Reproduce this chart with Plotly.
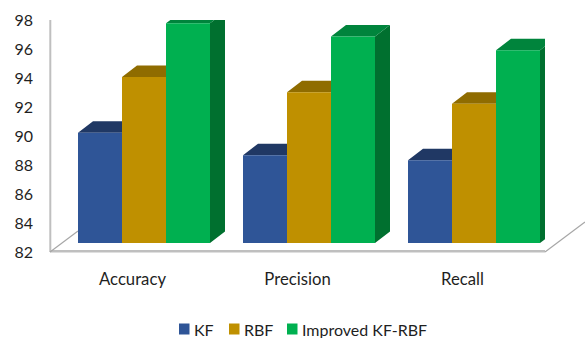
import plotly.graph_objects as go

categories = ["Accuracy", "Precision", "Recall"]
series_names = ["KF", "RBF", "Improved KF-RBF"]
kf_values = [89.6, 88.05, 87.7]
rbf_values = [93.45, 92.4, 91.6]
improved_values = [97.15, 96.25, 95.3]
y_ticks = [82, 84, 86, 88, 90, 92, 94, 96, 98]

front_colors = ["#2F5597", "#BF9000", "#00B050"]
top_colors = ["#203864", "#8F6C00", "#00843C"]
side_colors = ["#1B3058", "#7F6000", "#00702F"]

W, H = 585, 338
FONT = "Lato"
TEXT = "#1f1f1f"

# Pixel layout of the floor edge and of the shifted front plane of the bars
FLOOR_L, FLOOR_R, FLOOR_Y, TOP_Y = 50, 545, 252, 20
PLANE_DX, PLANE_DY = 11.5, 9
PX_PER_VALUE = (FLOOR_Y - TOP_Y) / (y_ticks[-1] - y_ticks[0])
PX_PER_CAT = (FLOOR_R - FLOOR_L) / len(categories)

# Extrusion of each bar, expressed in axis units
DEPTH_X = 15 / PX_PER_CAT
DEPTH_Y = 11.5 / PX_PER_VALUE
SHIFT_X = PLANE_DX / PX_PER_CAT
SHIFT_Y = PLANE_DY / PX_PER_VALUE
GROUP_WIDTH = 0.8
BAR_WIDTH = GROUP_WIDTH / len(series_names)

fig = go.Figure()
all_values = [kf_values, rbf_values, improved_values]

# Top and side faces sit on the primary axes, beneath the front faces
for s, values in enumerate(all_values):
    top_x, top_y, side_x, side_y = [], [], [], []
    for c, v in enumerate(values):
        left = c + SHIFT_X - GROUP_WIDTH / 2 + s * BAR_WIDTH
        right = left + BAR_WIDTH
        t = v + SHIFT_Y
        b = y_ticks[0] + SHIFT_Y
        top_x += [left, right, right + DEPTH_X, left + DEPTH_X, left, None]
        top_y += [t, t, t + DEPTH_Y, t + DEPTH_Y, t, None]
        side_x += [right, right + DEPTH_X, right + DEPTH_X, right, right, None]
        side_y += [b, b + DEPTH_Y, t + DEPTH_Y, t, b, None]
    for xs, ys, color in ((side_x, side_y, side_colors[s]), (top_x, top_y, top_colors[s])):
        fig.add_trace(go.Scatter(
            x=xs, y=ys, mode="lines", fill="toself", fillcolor=color,
            line=dict(width=0, color=color), hoverinfo="skip",
            showlegend=False, cliponaxis=False, xaxis="x", yaxis="y",
        ))

# Front faces are real bars on a second subplot stacked over the first
for s, values in enumerate(all_values):
    fig.add_trace(go.Bar(
        x=list(range(len(categories))), y=values, name=series_names[s],
        marker=dict(color=front_colors[s], line=dict(width=0)),
        xaxis="x2", yaxis="y2", showlegend=False,
    ))


def px_line(x0, y0, x1, y1, color, width):
    fig.add_shape(type="line", xref="paper", yref="paper",
                  x0=x0 / W, x1=x1 / W, y0=1 - y0 / H, y1=1 - y1 / H,
                  line=dict(color=color, width=width), layer="below")


# Chart frame: wall edge, front floor edge and the two receding floor edges
AXIS_COLOR = "#bfbfbf"
px_line(50.3, 20, 50.3, 252, AXIS_COLOR, 2)
px_line(50, 251.3, 545, 251.3, AXIS_COLOR, 2.6)
px_line(50, 252, 78, 231, "#a6a6a6", 1.2)
px_line(545, 252, 585, 222, "#a6a6a6", 1.2)

# Legend row built from square swatches and labels
LEGEND_Y = 329
for name, color, x_left in zip(series_names, front_colors, (179, 229, 287)):
    fig.add_shape(type="rect", xref="paper", yref="paper", layer="above",
                  x0=x_left / W, x1=(x_left + 10.5) / W,
                  y0=1 - (LEGEND_Y + 5.5) / H, y1=1 - (LEGEND_Y - 5.5) / H,
                  fillcolor=color, line=dict(width=0))
    fig.add_annotation(text=name, xref="paper", yref="paper", showarrow=False,
                       x=(x_left + 16) / W, y=1 - LEGEND_Y / H,
                       xanchor="left", yanchor="middle", xshift=-1,
                       borderpad=0, borderwidth=0,
                       font=dict(family=FONT, size=16, color=TEXT))

fig.update_layout(
    width=W, height=H, margin=dict(l=0, r=0, t=0, b=0, autoexpand=False),
    paper_bgcolor="white", plot_bgcolor="rgba(0,0,0,0)",
    font=dict(family=FONT, size=16, color=TEXT),
    barmode="group", bargap=1 - GROUP_WIDTH, bargroupgap=0,
    showlegend=False,
    xaxis=dict(domain=[FLOOR_L / W, FLOOR_R / W], range=[-0.5, 2.5], automargin=False,
               tickmode="array", tickvals=list(range(len(categories))), ticktext=categories,
               showgrid=False, zeroline=False, showline=False,
               ticks="", ticklabelstandoff=15, tickfont=dict(family=FONT, size=16.7, color=TEXT)),
    yaxis=dict(domain=[1 - FLOOR_Y / H, 1 - TOP_Y / H], range=[y_ticks[0], y_ticks[-1]], automargin=False,
               tickmode="array", tickvals=y_ticks,
               showgrid=False, zeroline=False, showline=False,
               ticks="", ticklabelstandoff=16, tickfont=dict(family=FONT, size=16, color=TEXT)),
    xaxis2=dict(domain=[(FLOOR_L + PLANE_DX) / W, (FLOOR_R + PLANE_DX) / W], range=[-0.5, 2.5],
                anchor="y2", visible=False),
    yaxis2=dict(domain=[1 - (FLOOR_Y - PLANE_DY) / H, 1 - (TOP_Y - PLANE_DY) / H],
                range=[y_ticks[0], y_ticks[-1]],
                anchor="x2", visible=False),
)

fig.write_html("out.html", config={"displayModeBar": False})
